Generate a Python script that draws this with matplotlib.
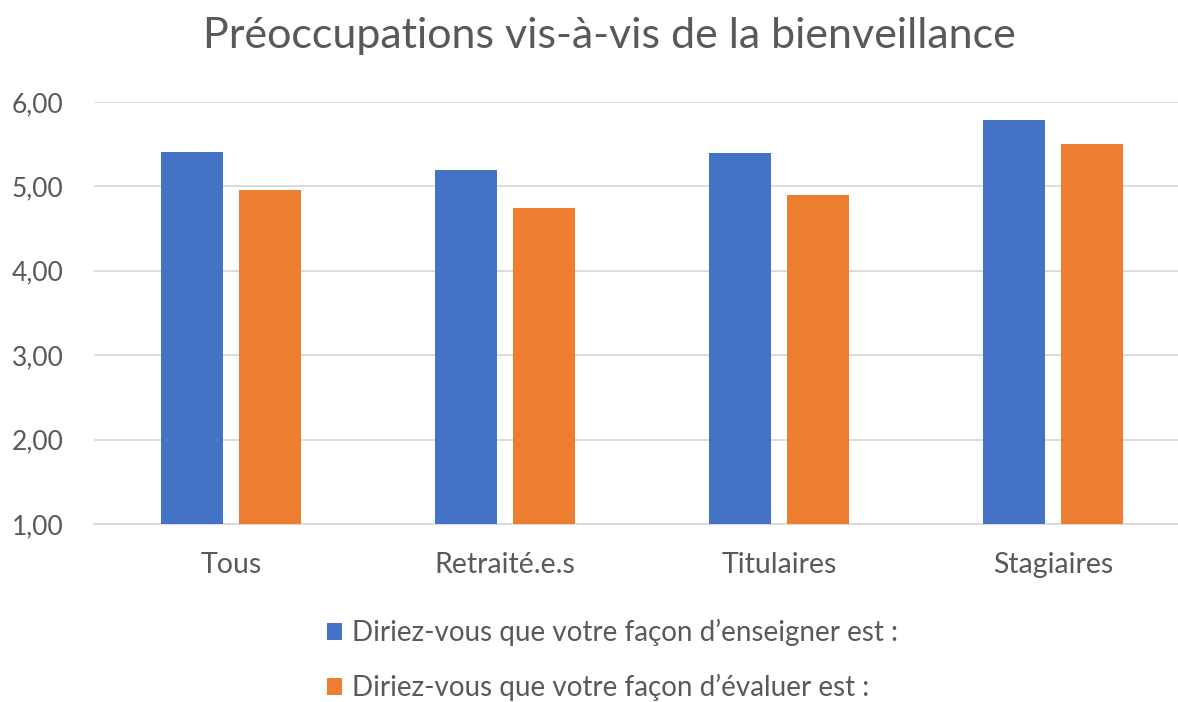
import matplotlib.pyplot as plt
import numpy as np

plt.rcParams['font.family'] = ['Lato', 'DejaVu Sans']

categories = ["Tous", "Retraité.e.s", "Titulaires", "Stagiaires"]
enseigner = [5.41, 5.19, 5.39, 5.79]
evaluer = [4.96, 4.74, 4.90, 5.50]
series_labels = ["Diriez-vous que votre façon d\u2019enseigner est :",
                 "Diriez-vous que votre façon d\u2019évaluer est :"]
yticks = [1, 2, 3, 4, 5, 6]

W, H = 1178, 702
fig = plt.figure(figsize=(W / 100, H / 100), dpi=100)
# axes placed in pixel coordinates
left, right, top, bottom = 94, 1190, 102, 524
ax = fig.add_axes([left / W, 1 - bottom / H, (right - left) / W, (bottom - top) / H])

x = np.arange(len(categories))
w = 0.226
off = 0.142
ax.bar(x - off, enseigner, w, bottom=0, color="#4472C4", label=series_labels[0], zorder=3)
ax.bar(x + off, evaluer, w, bottom=0, color="#ED7D31", label=series_labels[1], zorder=3)

ax.set_xlim(-0.5, len(categories) - 0.5)
ax.set_ylim(1, 6)
ax.set_yticks(yticks)
ax.set_yticklabels([f"{v:.2f}".replace(".", ",") for v in yticks])
ax.set_xticks(x)
ax.set_xticklabels(categories)
ax.grid(axis="y", color="#d9d9d9", linewidth=1.3, zorder=0)
for s in ["top", "right", "left"]:
    ax.spines[s].set_visible(False)
ax.spines["bottom"].set_color("#d9d9d9")
ax.spines["bottom"].set_linewidth(1.3)
ax.tick_params(axis="both", length=0, colors="#595959")
ax.tick_params(axis="x", pad=20, labelsize=20.5)
ax.tick_params(axis="y", pad=59, labelsize=19)
for lab in ax.get_yticklabels():
    lab.set_horizontalalignment("left")

fig.text(609 / W, 1 - 36 / H, "Préoccupations vis-à-vis de la bienveillance",
         ha="center", va="center", fontsize=31, color="#595959")

leg = fig.legend(loc="center left", bbox_to_anchor=(313 / W, 1 - 660 / H),
                 frameon=False, fontsize=20, labelcolor="#595959",
                 handlelength=0.55, handleheight=0.55, handletextpad=0.35,
                 labelspacing=1.0, borderpad=0)

fig.savefig("out.png", dpi=100)
